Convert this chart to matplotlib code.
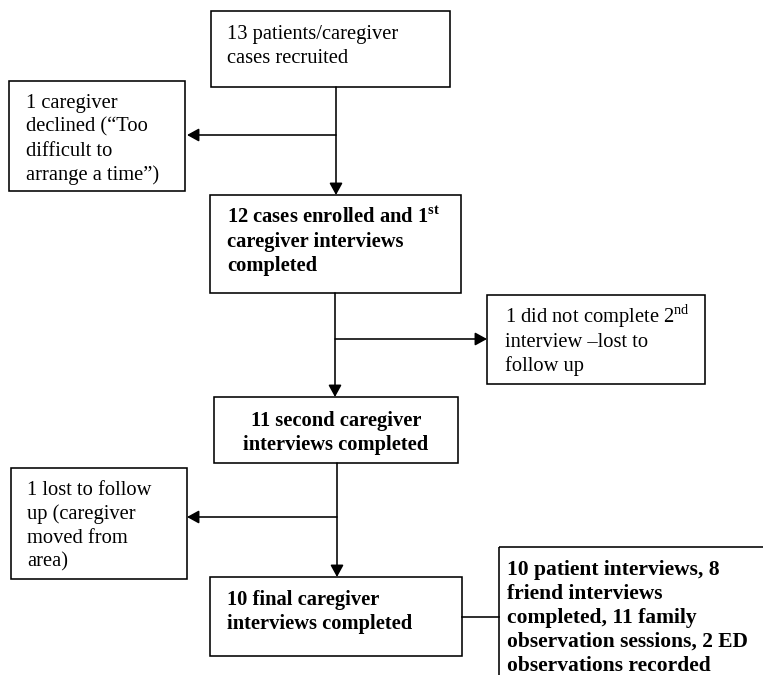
import matplotlib
matplotlib.use("Agg")
import matplotlib.pyplot as plt
from matplotlib.patches import Rectangle

plt.rcParams['font.family'] = ['Liberation Serif', 'DejaVu Serif']
plt.rcParams['mathtext.fontset'] = 'custom'
plt.rcParams['mathtext.rm'] = 'Liberation Serif'
plt.rcParams['mathtext.bf'] = 'Liberation Serif:bold'

# box texts (one entry per printed line)
recruited = ["13 patients/caregiver", "cases recruited"]
declined = ["1 caregiver", "declined (\u201cToo", "difficult to", "arrange a time\u201d)"]
enrolled = [r"12 cases enrolled and 1$^{\mathbf{st}}$", "caregiver interviews", "completed"]
lost_2nd = [r"1 did not complete 2$^{\mathrm{nd}}$", "interview \u2013lost to", "follow up"]
second = ["11 second caregiver", "interviews completed"]
moved = ["1 lost to follow", "up (caregiver", "moved from", "area)"]
final = ["10 final caregiver", "interviews completed"]
other = ["10 patient interviews, 8", "friend interviews", "completed, 11 family",
         "observation sessions, 2 ED", "observations recorded"]

# layout in pixels: box (left, top, right, bottom), first baseline, text x, bold, align, size
layout = [
    (recruited, (211, 11, 450, 87), 39, 227, False, 'left', 14.8),
    (declined, (9, 81, 185, 191), 108, 26, False, 'left', 14.8),
    (enrolled, (210, 195, 461, 293), 223, 227, True, 'left', 14.8),
    (lost_2nd, (487, 295, 705, 384), 323, 505, False, 'left', 14.8),
    (second, (214, 397, 458, 463), 426, 336, True, 'center', 14.8),
    (moved, (11, 468, 187, 579), 495, 27, False, 'left', 14.8),
    (final, (210, 577, 462, 656), 605, 227, True, 'left', 14.8),
    (other, (499, 547, 800, 720), 575, 507, True, 'left', 15.5),
]
line_step = 23.9
lw = 1.15

fig = plt.figure(figsize=(7.63, 6.75), dpi=100)
ax = fig.add_axes([0, 0, 1, 1])
ax.set_xlim(0, 763)
ax.set_ylim(675, 0)
ax.axis('off')

for lines, (x0, y0, x1, y1), base, tx, bold, ha, fs in layout:
    ax.add_patch(Rectangle((x0, y0), x1 - x0, y1 - y0, fill=False,
                           edgecolor='black', linewidth=lw))
    for i, line in enumerate(lines):
        ax.text(tx, base + i * line_step, line, fontsize=fs, ha=ha, va='baseline',
                fontweight='bold' if bold else 'normal')


def arrow(start, end):
    ax.annotate('', xy=end, xytext=start,
                arrowprops=dict(arrowstyle='-|>,head_length=0.4,head_width=0.22',
                                color='black', lw=lw, mutation_scale=18,
                                shrinkA=0, shrinkB=0))


# main flow and exclusions
arrow((336, 87), (336, 195))
arrow((336, 135), (187, 135))
arrow((335, 293), (335, 397))
arrow((335, 339), (487, 339))
arrow((337, 463), (337, 577))
arrow((337, 517), (187, 517))
ax.plot([462, 499], [617, 617], color='black', lw=lw)

fig.savefig('out.png', dpi=100)
